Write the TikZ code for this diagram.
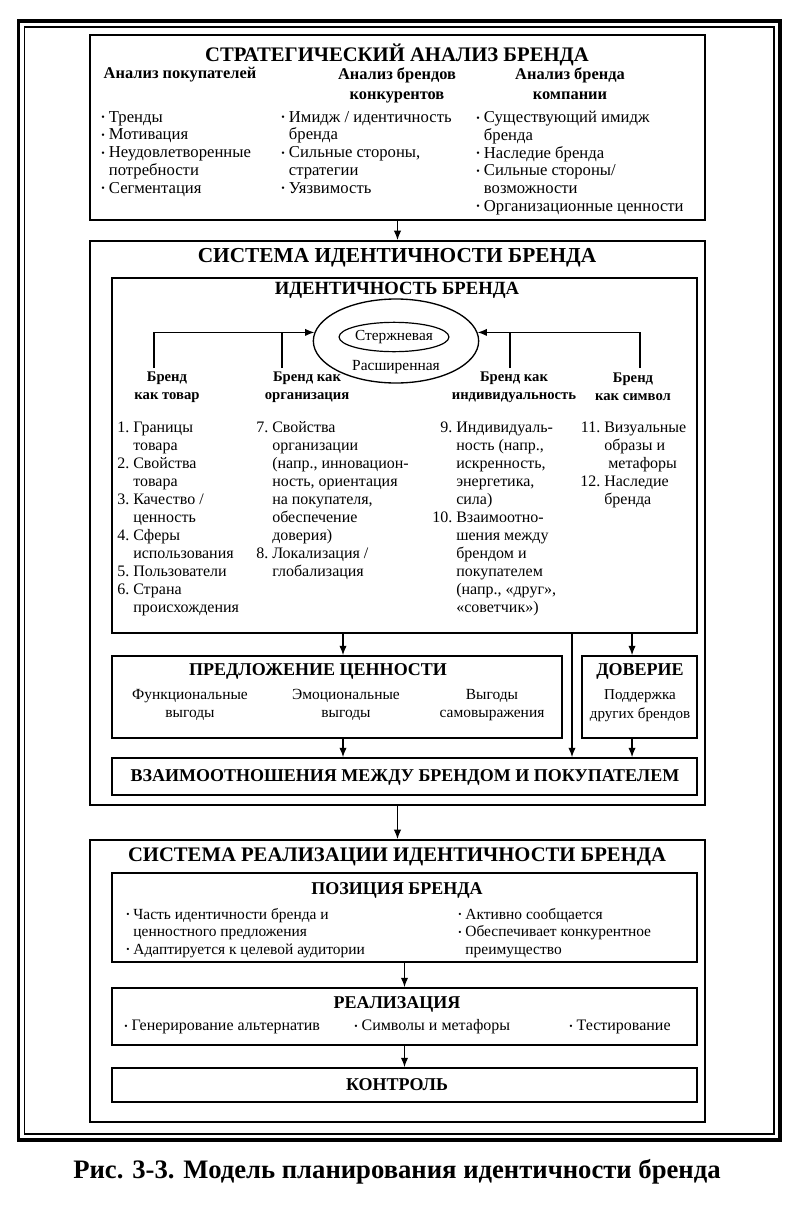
\documentclass[tikz,border=0pt]{standalone}
\usepackage{fontspec}
\setmainfont{Liberation Serif}
\usetikzlibrary{arrows.meta,fit,shapes.geometric}
% small bullet for the lists
\newcommand{\blt}{\raisebox{.2ex}{\scalebox{.6}{\textbullet}}\ }
\newcommand{\ind}{\hphantom{\blt}}

\begin{document}
\begin{tikzpicture}[
  x=0.75pt,y=-0.75pt,
  box/.style={draw,line width=1.4pt,inner sep=0pt},
  ttl/.style={font=\fontsize{15.5}{17}\selectfont\bfseries,inner sep=0pt},
  subttl/.style={font=\fontsize{13.5}{15}\selectfont\bfseries,inner sep=0pt},
  hd/.style={font=\fontsize{12.3}{15}\selectfont\bfseries,align=center,inner sep=0pt,anchor=north},
  colhd/.style={font=\fontsize{11}{13.5}\selectfont\bfseries,align=center,inner sep=0pt},
  lst/.style={font=\fontsize{12.5}{13.3}\selectfont,align=left,inner sep=0pt,anchor=north west},
  numlst/.style={font=\fontsize{12}{13.5}\selectfont,inner sep=0pt,anchor=north west},
  txt/.style={font=\fontsize{11.6}{14}\selectfont,align=center,inner sep=0pt},
  arr/.style={-{Latex[length=7pt,width=5.5pt]},line width=0.9pt},
  ]
  \useasboundingbox (0,0) rectangle (809,1213);
  % Double frame
  \draw[line width=2.6pt] (18.5,21) rectangle (780,1140);
  \draw[line width=1.1pt] (24.5,27) rectangle (774,1134);

  % Strategic analysis
  \node[box,fit={(90,35) (705,220)}] (sab) {};
  \node[ttl] (sabt) at (397,55) {СТРАТЕГИЧЕСКИЙ АНАЛИЗ БРЕНДА};
  \node[hd] (h1) at (180,67) {Анализ покупателей};
  \node[hd] (h2) at (397,67) {Анализ брендов\\конкурентов};
  \node[hd] (h3) at (570,67) {Анализ бренда\\компании};
  \node[lst] (l1) at (101,111) {\blt Тренды\\ \blt Мотивация\\
    \blt Неудовлетворенные\\ \ind потребности\\ \blt Сегментация};
  \node[lst] (l2) at (281,111) {\blt Имидж / идентичность\\ \ind бренда\\
    \blt Сильные стороны,\\ \ind стратегии\\ \blt Уязвимость};
  \node[lst] (l3) at (476,111) {\blt Существующий имидж\\ \ind бренда\\
    \blt Наследие бренда\\ \blt Сильные стороны/\\ \ind возможности\\
    \blt Организационные ценности};

  % Identity system
  \node[box,fit={(90,241) (705,805)}] (sib) {};
  \node[ttl,font=\fontsize{16}{18}\selectfont\bfseries] (sibt) at (397,258)
    {СИСТЕМА ИДЕНТИЧНОСТИ БРЕНДА};
  \node[box,line width=1.3pt,fit={(112,278) (697,633)}] (ib) {};
  \node[subttl,font=\fontsize{14}{16}\selectfont\bfseries] (ibt) at (397,290)
    {ИДЕНТИЧНОСТЬ БРЕНДА};
  \node[draw,ellipse,line width=1pt,minimum width=124pt,minimum height=63pt]
    (ext) at (396,341) {};
  \node[draw,ellipse,line width=0.9pt,minimum width=69pt,minimum height=22pt,
    inner sep=0pt,font=\fontsize{11.5}{13}\selectfont] (core) at (394,337) {Стержневая};
  \node[txt] (extt) at (396,367) {Расширенная};
  \node[colhd] (b1) at (167,387) {Бренд\\как товар};
  \node[colhd] (b2) at (307,387) {Бренд как\\организация};
  \node[colhd] (b3) at (514,387) {Бренд как\\индивидуальность};
  \node[colhd] (b4) at (633,387) {Бренд\\как символ};
  \coordinate (p1) at (154,368);
  \coordinate (p2) at (282,368);
  \coordinate (p3) at (510,368);
  \coordinate (p4) at (640,368);
  \draw[arr] (p1) |- (ext.174);
  \draw[line width=0.9pt] (p2) -- (p2 |- ext.174);
  \draw[arr] (p4) |- (ext.6);
  \draw[line width=0.9pt] (p3) -- (p3 |- ext.6);

  \node[numlst] (n1) at (117,420) {\begin{tabular}{@{}r@{\ }l@{}}
    1. & Границы\\ & товара\\ 2. & Свойства\\ & товара\\
    3. & Качество /\\ & ценность\\ 4. & Сферы\\ & использования\\
    5. & Пользователи\\ 6. & Страна\\ & происхождения
    \end{tabular}};
  \node[numlst] (n2) at (256,420) {\begin{tabular}{@{}r@{\ }l@{}}
    7. & Свойства\\ & организации\\ & (напр., инновацион-\\
    & ность, ориентация\\ & на покупателя,\\ & обеспечение\\ & доверия)\\
    8. & Локализация /\\ & глобализация
    \end{tabular}};
  \node[numlst] (n3) at (432,420) {\begin{tabular}{@{}r@{\ }l@{}}
    9. & Индивидуаль-\\ & ность (напр.,\\ & искренность,\\ & энергетика,\\
    & сила)\\ 10. & Взаимоотно-\\ & шения между\\ & брендом и\\
    & покупателем\\ & (напр., «друг»,\\ & «советчик»)
    \end{tabular}};
  \node[numlst] (n4) at (580,420) {\begin{tabular}{@{}r@{\ }l@{}}
    11. & Визуальные\\ & образы и\\ & \ метафоры\\ 12. & Наследие\\ & бренда
    \end{tabular}};

  % Value proposition and credibility
  \node[box,line width=1.3pt,fit={(112,656) (562,738)}] (val) {};
  \node[subttl] (valt) at (318,671) {ПРЕДЛОЖЕНИЕ ЦЕННОСТИ};
  \node[txt] (v1) at (190,705) {Функциональные\\выгоды};
  \node[txt] (v2) at (346,705) {Эмоциональные\\выгоды};
  \node[txt] (v3) at (492,705) {Выгоды\\самовыражения};
  \node[box,line width=1.3pt,fit={(582,656) (697,738)}] (trust) {};
  \node[subttl] (trustt) at (640,671) {ДОВЕРИЕ};
  \node[txt,font=\fontsize{11.3}{14}\selectfont] (tr1) at (640,706) {Поддержка\\других брендов};
  \node[box,line width=1.3pt,fit={(112,758) (697,795)}] (rel) {};
  \node[subttl] (relt) at (405,777) {ВЗАИМООТНОШЕНИЯ МЕЖДУ БРЕНДОМ И ПОКУПАТЕЛЕМ};
  \coordinate (va) at ([xshift=4.5pt]val.north);
  \coordinate (ta) at ([xshift=-5.6pt]trust.north);
  \coordinate (tap) at (572,633);
  \draw[arr] (va |- ib.south) -- (va);
  \draw[arr] (ta |- ib.south) -- (ta);
  \draw[arr] (tap) -- (tap |- rel.north);
  \draw[arr] (va |- val.south) -- (va |- rel.north);
  \draw[arr] (ta |- trust.south) -- (ta |- rel.north);

  % Implementation system
  \node[box,fit={(90,840) (705,1122)}] (srb) {};
  \node[ttl] (srbt) at (397,857) {СИСТЕМА РЕАЛИЗАЦИИ ИДЕНТИЧНОСТИ БРЕНДА};
  \node[box,line width=1.3pt,fit={(112,873) (697,962)}] (pos) {};
  \node[subttl] (post) at (397,890) {ПОЗИЦИЯ БРЕНДА};
  \node[lst,font=\fontsize{11.6}{13.1}\selectfont] (ps1) at (126,908)
    {\blt Часть идентичности бренда и\\ \ind ценностного предложения\\
     \blt Адаптируется к целевой аудитории};
  \node[lst,font=\fontsize{11.6}{13.1}\selectfont] (ps2) at (458,908)
    {\blt Активно сообщается\\ \blt Обеспечивает конкурентное\\
     \ind преимущество};
  \node[box,line width=1.3pt,fit={(112,988) (697,1045)}] (real) {};
  \node[subttl] (realt) at (397,1004) {РЕАЛИЗАЦИЯ};
  \node[txt,anchor=west,font=\fontsize{12}{14}\selectfont] (r1) at (124,1027)
    {\blt Генерирование альтернатив};
  \node[txt,anchor=west,font=\fontsize{12}{14}\selectfont] (r2) at (354,1027)
    {\blt Символы и метафоры};
  \node[txt,anchor=west,font=\fontsize{12}{14}\selectfont] (r3) at (569,1027)
    {\blt Тестирование};
  \node[box,line width=1.3pt,fit={(112,1068) (697,1102)}] (ctl) {};
  \node[subttl] (ctlt) at (397,1085) {КОНТРОЛЬ};

  % Main flow
  \draw[arr] (sab.south) -- (sib.north);
  \draw[arr] (sib.south) -- (srb.north);
  \draw[arr] (pos.south) -- (real.north);
  \draw[arr] (real.south) -- (ctl.north);

  % Caption
  \node[font=\fontsize{20}{23}\selectfont\bfseries] (cap) at (397,1172)
    {Рис. 3-3. Модель планирования идентичности бренда};
\end{tikzpicture}
\end{document}
